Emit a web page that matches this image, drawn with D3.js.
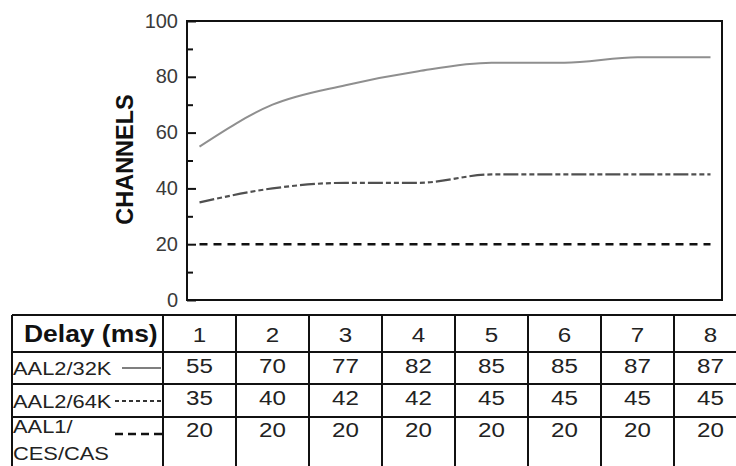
<!DOCTYPE html>
<html>
<head>
<meta charset="utf-8">
<script src="https://cdn.jsdelivr.net/npm/d3@7/dist/d3.min.js"></script>
<style>
  html, body { margin: 0; padding: 0; background: #fff; }
  svg { display: block; font-family: "Liberation Sans", Arial, Helvetica, sans-serif; }
</style>
</head>
<body>
<svg id="chart" width="736" height="466"></svg>
<script>
// ---- data ----
const delays = [1, 2, 3, 4, 5, 6, 7, 8];
const aal2_32k = [55, 70, 77, 82, 85, 85, 87, 87];
const aal2_64k = [35, 40, 42, 42, 45, 45, 45, 45];
const aal1_ces = [20, 20, 20, 20, 20, 20, 20, 20];
const yMajorTicks = [0, 20, 40, 60, 80, 100];
const yMinorTicks = [10, 30, 50, 70, 90];
const seriesLabels = [["AAL2/32K"], ["AAL2/64K"], ["AAL1/", "CES/CAS"]];
const headerLabel = "Delay (ms)";
const yTitle = "CHANNELS";

// ---- layout ----
const W = 736, H = 466;
const plot = { left: 187, right: 722, top: 21, bottom: 300 };
const table = { left: 12, top: 315, firstColRight: 163, rows: [315, 352, 384, 417, 466] };
const stretch = 1.15;

const svg = d3.select("#chart");

const x = d3.scaleLinear().domain([0.5, 8.5]).range([table.firstColRight, table.firstColRight + 73 * 8]);
const y = d3.scaleLinear().domain([0, 100]).range([plot.bottom, plot.top]);

// ---- plot frame ----
svg.append("rect")
  .attr("x", plot.left).attr("y", plot.top)
  .attr("width", plot.right - plot.left).attr("height", plot.bottom - plot.top)
  .attr("fill", "none").attr("stroke", "#111").attr("stroke-width", 2);

// ---- y axis (inward ticks) ----
const gMajor = svg.append("g")
  .attr("transform", `translate(${plot.left},0)`)
  .call(d3.axisLeft(y).tickValues(yMajorTicks).tickSizeInner(-9).tickSizeOuter(0).tickPadding(9));
gMajor.select(".domain").remove();
gMajor.selectAll(".tick line").attr("stroke", "#111").attr("stroke-width", 2);
gMajor.selectAll(".tick text")
  .attr("font-family", "'Liberation Sans', Arial, sans-serif")
  .attr("font-size", 20).attr("fill", "#3a3a3a").attr("dy", "0.3em");

const gMinor = svg.append("g")
  .attr("transform", `translate(${plot.left},0)`)
  .call(d3.axisLeft(y).tickValues(yMinorTicks).tickSizeInner(-6).tickSizeOuter(0).tickFormat(""));
gMinor.select(".domain").remove();
gMinor.selectAll(".tick line").attr("stroke", "#111").attr("stroke-width", 2);

// y title
svg.append("text")
  .attr("transform", `translate(133,${(plot.top + plot.bottom) / 2 - 1}) rotate(-90)`)
  .attr("text-anchor", "middle")
  .attr("font-size", 23.5).attr("font-weight", "bold").attr("fill", "#111")
  .text(yTitle);

// ---- series lines ----
const line = d3.line()
  .x((d, i) => x(delays[i]))
  .y(d => y(d))
  .curve(d3.curveMonotoneX);

const seriesStyle = [
  { data: aal2_32k, stroke: "#8f8f8f", width: 2, dash: null },
  { data: aal2_64k, stroke: "#505050", width: 2.2, dash: "15,3,5,3,5,3" },
  { data: aal1_ces, stroke: "#111", width: 2.5, dash: "8,6" }
];
seriesStyle.forEach(s => {
  svg.append("path")
    .attr("d", line(s.data))
    .attr("fill", "none")
    .attr("stroke", s.stroke)
    .attr("stroke-width", s.width)
    .attr("stroke-dasharray", s.dash);
});

// ---- table ----
const tg = svg.append("g");
const gridColor = "#111";
table.rows.slice(0, 4).forEach(ry => {
  tg.append("line").attr("x1", table.left).attr("x2", W).attr("y1", ry).attr("y2", ry)
    .attr("stroke", gridColor).attr("stroke-width", 2);
});
const colEdges = [table.left, table.firstColRight].concat(delays.slice(1).map(d => x(d - 0.5)));
colEdges.forEach(cx => {
  tg.append("line").attr("x1", cx).attr("x2", cx).attr("y1", table.top).attr("y2", H)
    .attr("stroke", gridColor).attr("stroke-width", 2);
});

function stretchedText(g, tx, ty, txt, size, anchor, weight, fill) {
  g.append("g").attr("transform", `translate(${tx},${ty}) scale(${stretch},1)`)
    .append("text")
    .attr("text-anchor", anchor)
    .attr("font-size", size)
    .attr("font-weight", weight || "normal")
    .attr("fill", fill || "#222")
    .text(txt);
}

// header
stretchedText(tg, 24, 342, headerLabel, 23, "start", "bold", "#111");
delays.forEach(d => stretchedText(tg, x(d), 342, String(d), 21, "middle"));

// rows
const rowBaselines = [373, 405, 437];
[aal2_32k, aal2_64k, aal1_ces].forEach((vals, r) => {
  vals.forEach((v, i) => stretchedText(tg, x(delays[i]), rowBaselines[r], String(v), 21, "middle"));
});

// row labels
stretchedText(tg, 13, 375, seriesLabels[0][0], 19, "start");
stretchedText(tg, 13, 408, seriesLabels[1][0], 19, "start");
stretchedText(tg, 13, 433, seriesLabels[2][0], 19, "start");
stretchedText(tg, 13, 460, seriesLabels[2][1], 19, "start");

// legend samples
const sampleY = [368, 401, 434];
const sampleX = [[122, 161], [115, 162], [115, 162]];
const sampleStyle = [
  { stroke: "#555", dash: null, width: 1.5 },
  { stroke: "#333", dash: "4,3", width: 2 },
  { stroke: "#111", dash: "8,5", width: 2.5 }
];
sampleStyle.forEach((s, i) => {
  tg.append("line")
    .attr("x1", sampleX[i][0]).attr("x2", sampleX[i][1])
    .attr("y1", sampleY[i]).attr("y2", sampleY[i])
    .attr("stroke", s.stroke).attr("stroke-width", s.width)
    .attr("stroke-dasharray", s.dash);
});
</script>
</body>
</html>
